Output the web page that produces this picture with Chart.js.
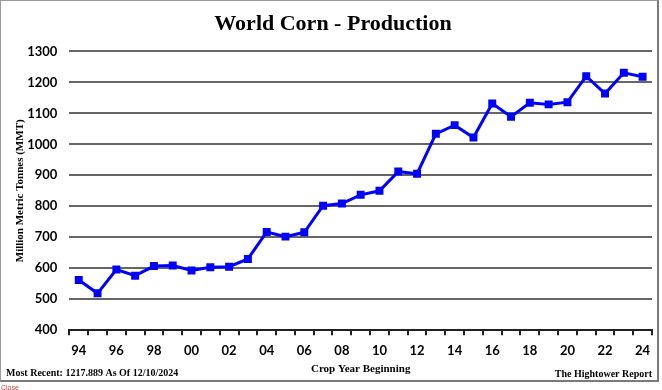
<!DOCTYPE html>
<html>
<head>
<meta charset="utf-8">
<script src="https://cdn.jsdelivr.net/npm/chart.js@4.4.1/dist/chart.umd.min.js"></script>
<style>
  html, body { margin: 0; padding: 0; background: #fff; }
  #wrap { position: relative; width: 662px; height: 390px; }
  #frame { position: absolute; left: 0; top: 0; width: 659px; height: 382px; border: 1px solid #9a9a9a; border-right: 2px solid #7a7a7a; border-bottom: 2px solid #7a7a7a; box-sizing: border-box; pointer-events: none; }
  #close { position: absolute; left: 1px; top: 384px; font: 7px "Liberation Sans", sans-serif; color: #d04040; }
</style>
</head>
<body>
<div id="wrap">
  <canvas id="cornChart" width="662" height="390"></canvas>
  <div id="frame"></div>
  <div id="close">Close</div>
</div>
<script>
// Crop years (two-digit labels) and world corn production, million metric tonnes
const years = ['94','95','96','97','98','99','00','01','02','03','04','05','06','07','08','09',
               '10','11','12','13','14','15','16','17','18','19','20','21','22','23','24'];
const production = [562, 519, 596, 576, 607, 609, 593, 603, 605, 630, 717, 702, 716, 802, 809, 837,
                    850, 912, 905, 1034, 1062, 1022, 1132, 1089, 1134, 1129, 1136, 1220, 1164, 1231, 1218];
const yTicks = [400, 500, 600, 700, 800, 900, 1000, 1100, 1200, 1300];

const serif = '"Liberation Serif", "DejaVu Serif", serif';
const sans = 'Lato, "Open Sans", sans-serif';

// footer notes drawn under the chart
const footerNotes = {
  id: 'footerNotes',
  afterDraw(chart) {
    const ctx = chart.ctx;
    ctx.save();
    ctx.fillStyle = '#000';
    ctx.textBaseline = 'alphabetic';
    ctx.font = 'bold 10px ' + serif;
    ctx.textAlign = 'left';
    ctx.fillText('Most Recent: 1217.889 As Of 12/10/2024', 6, 376);
    ctx.textAlign = 'right';
    ctx.fillText('The Hightower Report', 652, 377);
    ctx.restore();
  }
};

const ctx = document.getElementById('cornChart');
new Chart(ctx, {
  type: 'line',
  data: {
    labels: years,
    datasets: [{
      label: 'World Corn Production',
      data: production,
      borderColor: '#0000ff',
      backgroundColor: '#0000ff',
      borderWidth: 3,
      pointStyle: 'rect',
      pointRadius: 3.5,
      tension: 0,
      fill: false
    }]
  },
  options: {
    responsive: false,
    animation: false,
    layout: { padding: { left: 14, right: 10, top: 4, bottom: 14 } },
    plugins: {
      legend: { display: false },
      tooltip: { enabled: false },
      title: {
        display: true,
        text: 'World Corn - Production',
        color: '#000',
        font: { family: serif, size: 22, weight: 'bold' },
        padding: { top: 7, bottom: 14 }
      }
    },
    scales: {
      x: {
        offset: true,
        grid: { drawOnChartArea: false, drawTicks: true, tickLength: 5, color: '#222', lineWidth: 2, offset: true },
        border: { display: true, color: '#222', width: 2 },
        ticks: {
          color: '#000',
          font: { family: sans, size: 13, weight: 'bold' },
          maxRotation: 0,
          autoSkip: false,
          padding: 8,
          callback: function (v, i) { return i % 2 === 0 ? years[i] : ''; }
        },
        title: {
          display: true,
          text: 'Crop Year Beginning',
          color: '#000',
          font: { family: serif, size: 11, weight: 'bold' },
          padding: { top: -4, bottom: 0 }
        }
      },
      y: {
        min: 400,
        max: 1300,
        afterBuildTicks: function (axis) { axis.ticks = yTicks.map(v => ({ value: v })); },
        grid: { color: '#666', lineWidth: 2, drawTicks: false },
        border: { display: false },
        ticks: {
          color: '#000',
          font: { family: sans, size: 13, weight: 'bold' },
          padding: 12,
          callback: function (v) { return String(v); }
        },
        title: {
          display: true,
          text: 'Million Metric Tonnes (MMT)',
          color: '#000',
          font: { family: serif, size: 11, weight: 'bold' },
          padding: { top: 0, bottom: -12 }
        }
      }
    }
  },
  plugins: [footerNotes]
});
</script>
</body>
</html>
